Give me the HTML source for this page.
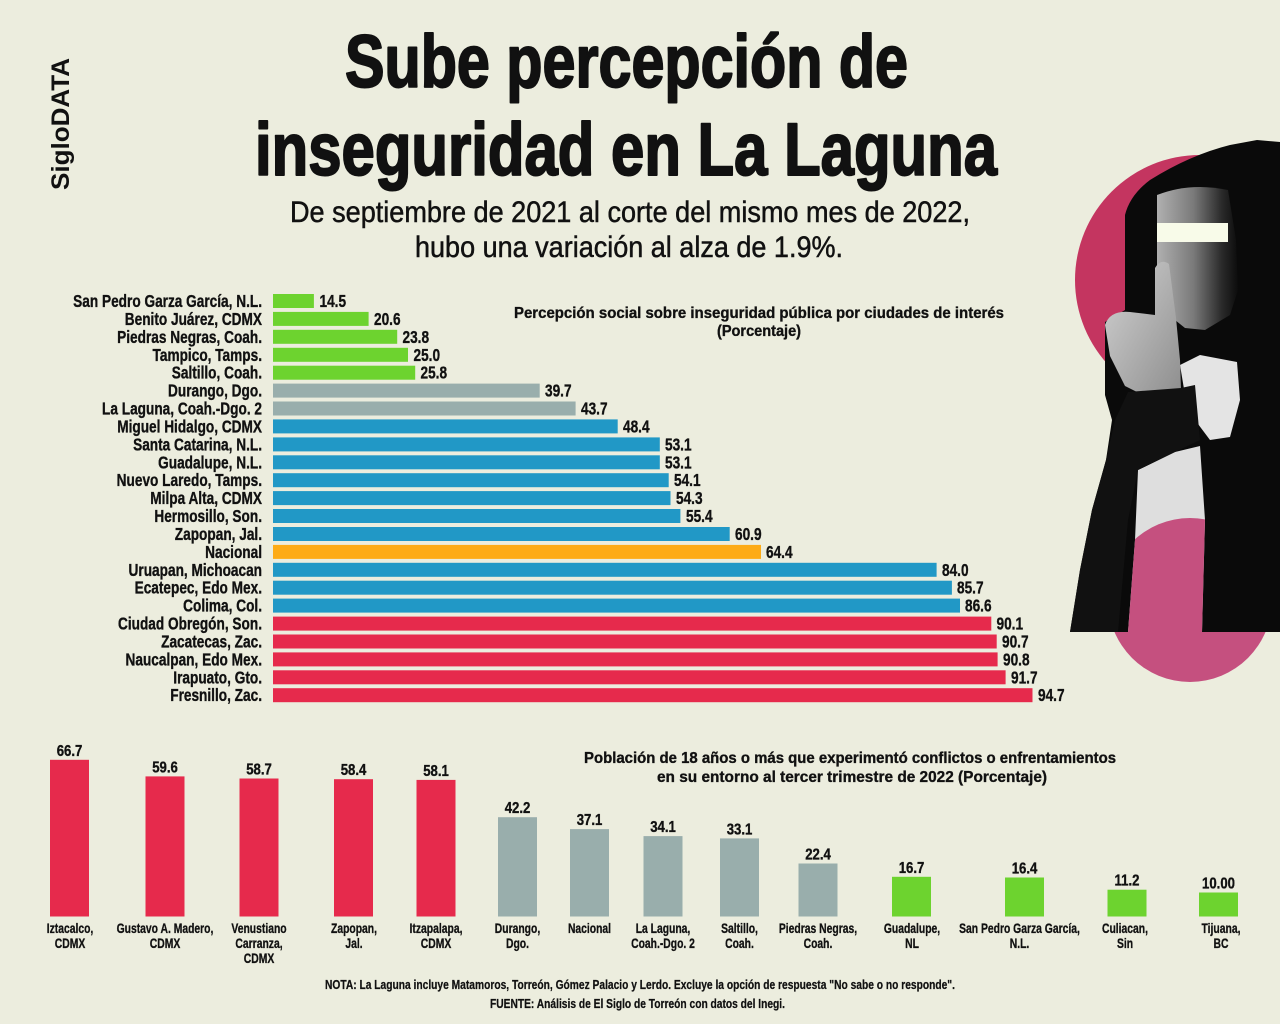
<!DOCTYPE html>
<html><head><meta charset="utf-8"><style>
html,body{margin:0;padding:0;background:#ecedde;}
svg{display:block;}
text{font-family:"Liberation Sans",sans-serif;fill:#111;}
.b{font-weight:bold;}
.lab{font-weight:bold;font-size:17.5px;stroke:#111;stroke-width:0.35px;}
.bl{font-weight:bold;font-size:14px;stroke:#111;stroke-width:0.3px;}
.bv{font-weight:bold;font-size:15.5px;stroke:#111;stroke-width:0.35px;}
.ct{font-weight:bold;font-size:16px;stroke:#111;stroke-width:0.35px;}
</style></head><body>
<svg width="1280" height="1024" viewBox="0 0 1280 1024" xmlns="http://www.w3.org/2000/svg">
<defs>
<linearGradient id="face" x1="0" y1="0" x2="1" y2="0"><stop offset="0" stop-color="#b0b0b0"/><stop offset="0.45" stop-color="#7a7a7a"/><stop offset="0.8" stop-color="#2a2a2a"/><stop offset="1" stop-color="#0c0c0c"/></linearGradient>
<linearGradient id="hand" x1="0" y1="0" x2="1" y2="1"><stop offset="0" stop-color="#d2d2d2"/><stop offset="1" stop-color="#8e8e8e"/></linearGradient>
<clipPath id="gap"><path d="M1138,470 L1175,452 L1200,446 L1205,520 L1202,632 L1128,632 L1135,540 Z"/></clipPath>
</defs>
<rect x="0" y="0" width="1280" height="1024" fill="#ecedde"/>

<!-- SigloDATA -->
<text class="b" font-size="25" transform="translate(69,190) rotate(-90)" textLength="132" lengthAdjust="spacingAndGlyphs">SigloDATA</text>

<!-- Title -->
<text class="b" x="345" y="87" font-size="74" textLength="563" lengthAdjust="spacingAndGlyphs" stroke="#111" stroke-width="2" stroke-linejoin="round">Sube percepción de</text>
<text class="b" x="255" y="175" font-size="74" textLength="742" lengthAdjust="spacingAndGlyphs" stroke="#111" stroke-width="2" stroke-linejoin="round">inseguridad en La Laguna</text>
<text x="290" y="222" font-size="30" textLength="680" lengthAdjust="spacingAndGlyphs" stroke="#111" stroke-width="0.5">De septiembre de 2021 al corte del mismo mes de 2022,</text>
<text x="415" y="257" font-size="30" textLength="428" lengthAdjust="spacingAndGlyphs" stroke="#111" stroke-width="0.5">hubo una variación al alza de 1.9%.</text>

<!-- Photo -->
<circle cx="1200" cy="280" r="125" fill="#c43560"/>
<circle cx="1190" cy="600" r="82" fill="#c5507f"/>
<path d="M1070,632 L1080,570 L1092,510 L1106,460 L1112,420 L1105,395 L1105,322 L1125,310 L1125,215 Q1130,195 1150,180 Q1190,155 1230,145 L1257,140 L1280,142 L1280,632 Z" fill="#0a0a0a"/>
<path d="M1157,195 Q1190,182 1228,190 L1236,240 L1238,290 L1230,315 L1205,330 L1185,328 L1165,312 L1157,270 Z" fill="url(#face)"/>
<path d="M1180,365 L1200,355 L1237,362 L1240,400 L1230,437 L1210,440 L1195,420 L1185,395 Z" fill="#e4e4e4"/>
<path d="M1138,470 L1175,452 L1200,446 L1205,520 L1202,632 L1128,632 L1135,540 Z" fill="#dedede"/>
<circle cx="1190" cy="600" r="82" fill="#c5507f" clip-path="url(#gap)"/>
<path d="M1105,325 Q1110,310 1130,312 L1155,315 L1155,268 Q1161,258 1169,264 L1176,318 L1180,360 L1181,390 L1145,396 L1125,386 L1110,356 Z" fill="url(#hand)"/>
<path d="M1128,392 L1181,388 L1195,385 L1200,440 L1175,452 L1138,470 L1128,520 L1118,632 L1070,632 L1080,570 L1092,510 L1106,460 L1115,420 Z" fill="#111"/>
<rect x="1157" y="223" width="71" height="19" fill="#f8fbe9"/>

<!-- Chart 1 title -->
<text class="ct" x="514" y="318" textLength="490" lengthAdjust="spacingAndGlyphs">Percepción social sobre inseguridad pública por ciudades de interés</text>
<text class="ct" x="717" y="336" textLength="84" lengthAdjust="spacingAndGlyphs">(Porcentaje)</text>

<!-- Horizontal bars -->
<g>
<rect x="273" y="294.0" width="40.9" height="14" fill="#6dd32f"/>
<rect x="273" y="311.9" width="95.6" height="14" fill="#6dd32f"/>
<rect x="273" y="329.8" width="124.2" height="14" fill="#6dd32f"/>
<rect x="273" y="347.8" width="135.0" height="14" fill="#6dd32f"/>
<rect x="273" y="365.7" width="142.2" height="14" fill="#6dd32f"/>
<rect x="273" y="383.6" width="266.7" height="14" fill="#99aeac"/>
<rect x="273" y="401.5" width="302.6" height="14" fill="#99aeac"/>
<rect x="273" y="419.4" width="344.7" height="14" fill="#2198c6"/>
<rect x="273" y="437.4" width="386.8" height="14" fill="#2198c6"/>
<rect x="273" y="455.3" width="386.8" height="14" fill="#2198c6"/>
<rect x="273" y="473.2" width="395.7" height="14" fill="#2198c6"/>
<rect x="273" y="491.1" width="397.5" height="14" fill="#2198c6"/>
<rect x="273" y="509.0" width="407.4" height="14" fill="#2198c6"/>
<rect x="273" y="527.0" width="456.7" height="14" fill="#2198c6"/>
<rect x="273" y="544.9" width="488.0" height="14" fill="#fdab16"/>
<rect x="273" y="562.8" width="663.6" height="14" fill="#2198c6"/>
<rect x="273" y="580.7" width="678.9" height="14" fill="#2198c6"/>
<rect x="273" y="598.6" width="687.0" height="14" fill="#2198c6"/>
<rect x="273" y="616.6" width="718.3" height="14" fill="#e62a4c"/>
<rect x="273" y="634.5" width="723.7" height="14" fill="#e62a4c"/>
<rect x="273" y="652.4" width="724.6" height="14" fill="#e62a4c"/>
<rect x="273" y="670.3" width="732.6" height="14" fill="#e62a4c"/>
<rect x="273" y="688.2" width="759.5" height="14" fill="#e62a4c"/>
</g>

<g transform="translate(262,0) scale(0.78,1)" text-anchor="end">
<text class="lab" x="0" y="307.0">San Pedro Garza García, N.L.</text>
<text class="lab" x="0" y="324.9">Benito Juárez, CDMX</text>
<text class="lab" x="0" y="342.8">Piedras Negras, Coah.</text>
<text class="lab" x="0" y="360.8">Tampico, Tamps.</text>
<text class="lab" x="0" y="378.7">Saltillo, Coah.</text>
<text class="lab" x="0" y="396.6">Durango, Dgo.</text>
<text class="lab" x="0" y="414.5">La Laguna, Coah.-Dgo. 2</text>
<text class="lab" x="0" y="432.4">Miguel Hidalgo, CDMX</text>
<text class="lab" x="0" y="450.4">Santa Catarina, N.L.</text>
<text class="lab" x="0" y="468.3">Guadalupe, N.L.</text>
<text class="lab" x="0" y="486.2">Nuevo Laredo, Tamps.</text>
<text class="lab" x="0" y="504.1">Milpa Alta, CDMX</text>
<text class="lab" x="0" y="522.0">Hermosillo, Son.</text>
<text class="lab" x="0" y="540.0">Zapopan, Jal.</text>
<text class="lab" x="0" y="557.9">Nacional</text>
<text class="lab" x="0" y="575.8">Uruapan, Michoacan</text>
<text class="lab" x="0" y="593.7">Ecatepec, Edo Mex.</text>
<text class="lab" x="0" y="611.6">Colima, Col.</text>
<text class="lab" x="0" y="629.6">Ciudad Obregón, Son.</text>
<text class="lab" x="0" y="647.5">Zacatecas, Zac.</text>
<text class="lab" x="0" y="665.4">Naucalpan, Edo Mex.</text>
<text class="lab" x="0" y="683.3">Irapuato, Gto.</text>
<text class="lab" x="0" y="701.2">Fresnillo, Zac.</text>
</g>

<g>
<text class="lab" transform="translate(319.5,307.0) scale(0.78,1)">14.5</text>
<text class="lab" transform="translate(374,324.9) scale(0.78,1)">20.6</text>
<text class="lab" transform="translate(402.5,342.8) scale(0.78,1)">23.8</text>
<text class="lab" transform="translate(413.5,360.8) scale(0.78,1)">25.0</text>
<text class="lab" transform="translate(420.5,378.7) scale(0.78,1)">25.8</text>
<text class="lab" transform="translate(545,396.6) scale(0.78,1)">39.7</text>
<text class="lab" transform="translate(581,414.5) scale(0.78,1)">43.7</text>
<text class="lab" transform="translate(623,432.4) scale(0.78,1)">48.4</text>
<text class="lab" transform="translate(665,450.4) scale(0.78,1)">53.1</text>
<text class="lab" transform="translate(665,468.3) scale(0.78,1)">53.1</text>
<text class="lab" transform="translate(674,486.2) scale(0.78,1)">54.1</text>
<text class="lab" transform="translate(676,504.1) scale(0.78,1)">54.3</text>
<text class="lab" transform="translate(686,522.0) scale(0.78,1)">55.4</text>
<text class="lab" transform="translate(735,540.0) scale(0.78,1)">60.9</text>
<text class="lab" transform="translate(766,557.9) scale(0.78,1)">64.4</text>
<text class="lab" transform="translate(942,575.8) scale(0.78,1)">84.0</text>
<text class="lab" transform="translate(957,593.7) scale(0.78,1)">85.7</text>
<text class="lab" transform="translate(965,611.6) scale(0.78,1)">86.6</text>
<text class="lab" transform="translate(996.5,629.6) scale(0.78,1)">90.1</text>
<text class="lab" transform="translate(1002,647.5) scale(0.78,1)">90.7</text>
<text class="lab" transform="translate(1003,665.4) scale(0.78,1)">90.8</text>
<text class="lab" transform="translate(1011,683.3) scale(0.78,1)">91.7</text>
<text class="lab" transform="translate(1038,701.2) scale(0.78,1)">94.7</text>
</g>

<!-- Chart 2 title -->
<text class="ct" x="584" y="763" textLength="532" lengthAdjust="spacingAndGlyphs">Población de 18 años o más que experimentó conflictos o enfrentamientos</text>
<text class="ct" x="657" y="782" textLength="390" lengthAdjust="spacingAndGlyphs">en su entorno al tercer trimestre de 2022 (Porcentaje)</text>

<!-- Vertical bars -->
<g>
<rect x="50" y="759.8" width="39" height="156.7" fill="#e62a4c"/>
<rect x="145.5" y="776.4" width="39" height="140.1" fill="#e62a4c"/>
<rect x="239.5" y="778.5" width="39" height="138.0" fill="#e62a4c"/>
<rect x="334" y="779.2" width="39" height="137.3" fill="#e62a4c"/>
<rect x="416.5" y="779.9" width="39" height="136.6" fill="#e62a4c"/>
<rect x="498" y="817.2" width="39" height="99.3" fill="#99aeac"/>
<rect x="570" y="829.1" width="39" height="87.4" fill="#99aeac"/>
<rect x="643.5" y="836.1" width="39" height="80.4" fill="#99aeac"/>
<rect x="720" y="838.4" width="39" height="78.1" fill="#99aeac"/>
<rect x="798.5" y="863.5" width="39" height="53.0" fill="#99aeac"/>
<rect x="892" y="876.8" width="39" height="39.7" fill="#6dd32f"/>
<rect x="1005" y="877.5" width="39" height="39.0" fill="#6dd32f"/>
<rect x="1107.5" y="889.7" width="39" height="26.8" fill="#6dd32f"/>
<rect x="1199" y="892.5" width="39" height="24.0" fill="#6dd32f"/>
</g>

<g text-anchor="middle">
<text class="bv" transform="translate(69.5,755.8) scale(0.85,1)">66.7</text>
<text class="bv" transform="translate(165,772.4) scale(0.85,1)">59.6</text>
<text class="bv" transform="translate(259,774.5) scale(0.85,1)">58.7</text>
<text class="bv" transform="translate(353.5,775.2) scale(0.85,1)">58.4</text>
<text class="bv" transform="translate(436,775.9) scale(0.85,1)">58.1</text>
<text class="bv" transform="translate(517.5,813.2) scale(0.85,1)">42.2</text>
<text class="bv" transform="translate(589.5,825.1) scale(0.85,1)">37.1</text>
<text class="bv" transform="translate(663,832.1) scale(0.85,1)">34.1</text>
<text class="bv" transform="translate(739.5,834.4) scale(0.85,1)">33.1</text>
<text class="bv" transform="translate(818,859.5) scale(0.85,1)">22.4</text>
<text class="bv" transform="translate(911.5,872.8) scale(0.85,1)">16.7</text>
<text class="bv" transform="translate(1024.5,873.5) scale(0.85,1)">16.4</text>
<text class="bv" transform="translate(1127,885.7) scale(0.85,1)">11.2</text>
<text class="bv" transform="translate(1218.5,888.5) scale(0.85,1)">10.00</text>
</g>

<g text-anchor="middle">
<text class="bl" transform="translate(70,933) scale(0.74,1)">Iztacalco,</text>
<text class="bl" transform="translate(70,948) scale(0.74,1)">CDMX</text>
<text class="bl" transform="translate(165,933) scale(0.74,1)">Gustavo A. Madero,</text>
<text class="bl" transform="translate(165,948) scale(0.74,1)">CDMX</text>
<text class="bl" transform="translate(259,933) scale(0.74,1)">Venustiano</text>
<text class="bl" transform="translate(259,948) scale(0.74,1)">Carranza,</text>
<text class="bl" transform="translate(259,963) scale(0.74,1)">CDMX</text>
<text class="bl" transform="translate(354,933) scale(0.74,1)">Zapopan,</text>
<text class="bl" transform="translate(354,948) scale(0.74,1)">Jal.</text>
<text class="bl" transform="translate(436,933) scale(0.74,1)">Itzapalapa,</text>
<text class="bl" transform="translate(436,948) scale(0.74,1)">CDMX</text>
<text class="bl" transform="translate(517.5,933) scale(0.74,1)">Durango,</text>
<text class="bl" transform="translate(517.5,948) scale(0.74,1)">Dgo.</text>
<text class="bl" transform="translate(589.5,933) scale(0.74,1)">Nacional</text>
<text class="bl" transform="translate(663,933) scale(0.74,1)">La Laguna,</text>
<text class="bl" transform="translate(663,948) scale(0.74,1)">Coah.-Dgo. 2</text>
<text class="bl" transform="translate(739.5,933) scale(0.74,1)">Saltillo,</text>
<text class="bl" transform="translate(739.5,948) scale(0.74,1)">Coah.</text>
<text class="bl" transform="translate(818,933) scale(0.74,1)">Piedras Negras,</text>
<text class="bl" transform="translate(818,948) scale(0.74,1)">Coah.</text>
<text class="bl" transform="translate(912,933) scale(0.74,1)">Guadalupe,</text>
<text class="bl" transform="translate(912,948) scale(0.74,1)">NL</text>
<text class="bl" transform="translate(1019.5,933) scale(0.74,1)">San Pedro Garza García,</text>
<text class="bl" transform="translate(1019.5,948) scale(0.74,1)">N.L.</text>
<text class="bl" transform="translate(1125,933) scale(0.74,1)">Culiacan,</text>
<text class="bl" transform="translate(1125,948) scale(0.74,1)">Sin</text>
<text class="bl" transform="translate(1221,933) scale(0.74,1)">Tijuana,</text>
<text class="bl" transform="translate(1221,948) scale(0.74,1)">BC</text>
</g>

<!-- Footnotes -->
<text class="b" x="325" y="989" font-size="12.5" textLength="630" lengthAdjust="spacingAndGlyphs" stroke="#111" stroke-width="0.25">NOTA: La Laguna incluye Matamoros, Torreón, Gómez Palacio y Lerdo. Excluye la opción de respuesta "No sabe o no responde".</text>
<text class="b" x="490" y="1008" font-size="12.5" textLength="295" lengthAdjust="spacingAndGlyphs" stroke="#111" stroke-width="0.25">FUENTE: Análisis de El Siglo de Torreón con datos del Inegi.</text>
</svg>
</body></html>
